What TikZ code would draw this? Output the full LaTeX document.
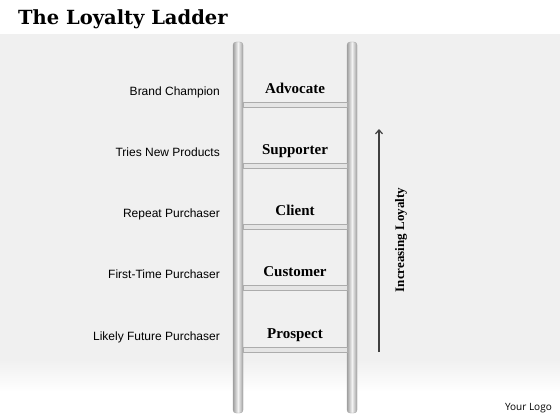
\documentclass[tikz,border=0pt]{standalone}
\usepackage{fontspec}
\setmainfont{Liberation Serif}
\setsansfont{Liberation Sans}
\newfontfamily\titlefont{DejaVu Serif}
\newfontfamily\logofont{Open Sans}
\usetikzlibrary{arrows.meta}

\definecolor{bandgray}{RGB}{240,240,240}
\definecolor{railgray}{RGB}{160,160,160}

\tikzset{
	rail/.style		= {rounded corners=3pt, left color=railgray, right color=railgray,
					   middle color=gray!10, draw=gray!70, line width=0.3pt},
	rung/.style		= {fill=gray!20, draw=gray!65, line width=1pt},
	stagelabel/.style	= {font=\bfseries\fontsize{15}{17}\selectfont, anchor=base},
	buyerlabel/.style	= {font=\sffamily\fontsize{12}{14}\selectfont, anchor=base east, inner sep=0pt},
}

\begin{document}
\begin{tikzpicture}[x=1pt, y=-1pt]
	%\draw[help lines] (0,0) grid (560,420);
	\useasboundingbox (0,0) rectangle (560,420);
	\fill[white] (0,0) rectangle (560,420);
	\fill[bandgray] (0,34) rectangle (560,360);
	\shade[top color=bandgray, bottom color=white] (0,359.5) rectangle (560,392);
	
	\node[font=\titlefont\bfseries\fontsize{19.5}{22}\selectfont, anchor=base west, inner sep=0pt] (title) at (18,25) {The Loyalty Ladder};
	\node[font=\logofont\fontsize{10}{12}\selectfont, anchor=base east, inner sep=0pt] (logo) at (552,410) {Your Logo};
	
	% rails
	\shade[rail] (233,42) rectangle (243,413);
	\shade[rail] (347,42) rectangle (357,413);
	
	% rungs and labels
	\foreach \y/\stage/\buyer [count=\i] in {105/Advocate/Brand Champion,
		166/Supporter/Tries New Products, 227/Client/Repeat Purchaser,
		288/Customer/First-Time Purchaser, 350/Prospect/Likely Future Purchaser}{
		\filldraw[rung] (243,\y-2.5) rectangle (347,\y+2.5);
		\node[stagelabel] (stage-\i) at (295,\y-12) {\stage};
		\node[buyerlabel] (buyer-\i) at (220,\y-9.5) {\buyer};
	}
	
	% loyalty arrow
	\coordinate (loyal-start) at (379,352);
	\coordinate (loyal-end) at (379,129);
	\draw[gray!50!black, line width=1.2pt, -{Straight Barb[length=4pt, width=7pt]}] (loyal-start) -- (loyal-end);
	\node[font=\bfseries\fontsize{13}{15}\selectfont, rotate=90] (loyalty) at (401,240) {Increasing Loyalty};
\end{tikzpicture}
\end{document}
